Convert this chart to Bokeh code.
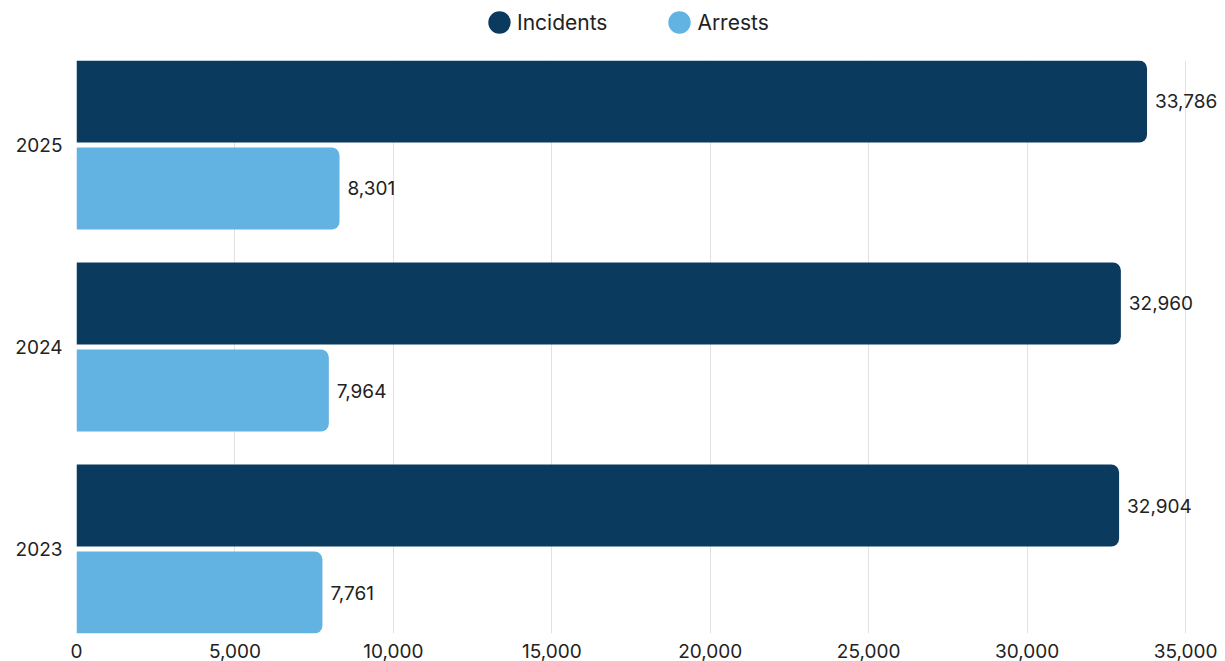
import math
from bokeh.plotting import figure
from bokeh.layouts import column
from bokeh.models import (ColumnDataSource, FactorRange, FixedTicker, NumeralTickFormatter,
                          Legend, LegendItem, Range1d)
from bokeh.transform import dodge
from bokeh.core.properties import value
from bokeh.embed import file_html
from bokeh.resources import INLINE

# ---- data ----
years = ["2023", "2024", "2025"]          # bottom to top
incidents = [32904, 32960, 33786]
arrests = [7761, 7964, 8301]
series_names = ["Incidents", "Arrests"]
x_ticks = [0, 5000, 10000, 15000, 20000, 25000, 30000, 35000]

DARK = "#0b3a5f"
LIGHT = "#62b3e1"
FONT = "Inter"
TXT = "#222222"

src = ColumnDataSource(dict(
    year=years,
    inc=incidents,
    arr=arrests,
    inc_lbl=[f"{v:,}" for v in incidents],
    arr_lbl=[f"{v:,}" for v in arrests],
))

# ---- legend strip ----
lg = figure(width=1225, height=60, x_range=Range1d(0, 1), y_range=Range1d(0, 1),
            output_backend="svg", toolbar_location=None,
            min_border_left=0, min_border_right=0, min_border_top=0, min_border_bottom=0)
lg.axis.visible = False
lg.grid.visible = False
lg.outline_line_color = None
r1 = lg.ellipse(x=[math.nan], y=[math.nan], width=22, height=22,
                width_units="screen", height_units="screen", fill_color=DARK, line_color=None)
r2 = lg.ellipse(x=[math.nan], y=[math.nan], width=22, height=22,
                width_units="screen", height_units="screen", fill_color=LIGHT, line_color=None)
legend = Legend(items=[LegendItem(label=series_names[0], renderers=[r1]),
                       LegendItem(label=series_names[1], renderers=[r2])],
                location=(409, 24), orientation="horizontal",
                glyph_width=28, glyph_height=28, label_standoff=4, spacing=58,
                padding=0, margin=0, border_line_alpha=0, background_fill_alpha=0,
                label_text_font=FONT, label_text_font_size="21px", label_text_color=TXT)
lg.add_layout(legend, "center")

# ---- main chart ----
yr = FactorRange(factors=years, range_padding=-0.082, range_padding_units="absolute")

p = figure(width=1225, height=601, y_range=yr, x_range=Range1d(0, 36262),
           output_backend="svg", toolbar_location=None,
           min_border_left=76, min_border_right=0, min_border_top=0, min_border_bottom=28)
p.outline_line_color = None
p.background_fill_color = "white"
p.border_fill_color = "white"

bh = 0.406
off = 0.2153
p.hbar(y=dodge("year", off, range=p.y_range), right="inc", left=0, height=bh, source=src,
       fill_color=DARK, line_color=None, border_radius=(0, 8, 8, 0))
p.hbar(y=dodge("year", -off, range=p.y_range), right="arr", left=0, height=bh, source=src,
       fill_color=LIGHT, line_color=None, border_radius=(0, 8, 8, 0))

for col, lbl, o in (("inc", "inc_lbl", off), ("arr", "arr_lbl", -off)):
    p.text(x=col, y=dodge("year", o, range=p.y_range), text=lbl, source=src,
           x_offset=8, text_align="left", text_baseline="middle",
           text_font=value(FONT), text_font_size="19px", text_color=TXT)

# axes
p.xaxis.ticker = FixedTicker(ticks=x_ticks)
p.xaxis.formatter = NumeralTickFormatter(format="0,0")
p.xaxis.axis_line_color = None
p.xaxis.major_tick_line_color = None
p.xaxis.minor_tick_line_color = None
p.xaxis.major_tick_out = 0
p.xaxis.major_label_standoff = 10
p.xaxis.major_label_text_font = FONT
p.xaxis.major_label_text_font_size = "19px"
p.xaxis.major_label_text_color = TXT

p.yaxis.axis_line_color = None
p.yaxis.major_tick_line_color = None
p.yaxis.major_tick_out = 0
p.yaxis.major_label_standoff = 14
p.yaxis.major_label_text_font = FONT
p.yaxis.major_label_text_font_size = "19px"
p.yaxis.major_label_text_color = TXT

p.ygrid.grid_line_color = None
p.xgrid.grid_line_color = "#e2e2e2"
p.xgrid.grid_line_width = 1

layout = column(lg, p, spacing=0)
open("out.html", "w").write(file_html(layout, INLINE))
